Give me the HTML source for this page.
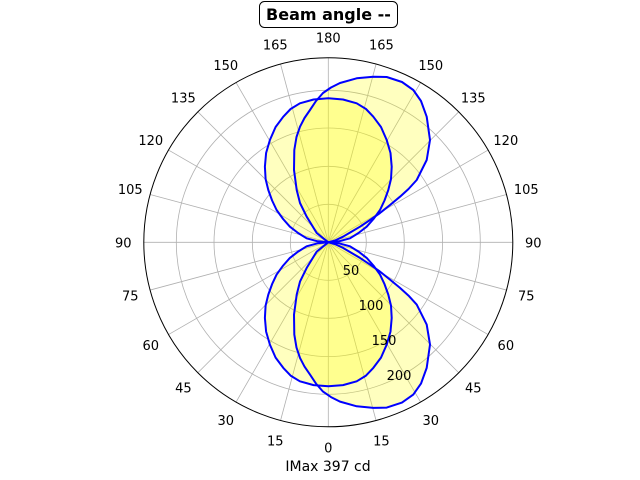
<!DOCTYPE html>
<html><head><meta charset="utf-8"><style>
html,body{margin:0;padding:0;background:#fff;width:640px;height:480px;overflow:hidden}
svg text{font-family:"DejaVu Sans","Liberation Sans",sans-serif;font-size:13px;fill:#000}
</style></head><body>
<svg id="s" width="640" height="480" xmlns="http://www.w3.org/2000/svg">
<g id="grid"></g>
<g id="data"></g>
<circle cx="328.3" cy="242.3" r="184.5" fill="none" stroke="#000" stroke-width="1"/>
<g id="lbl"></g>
<rect x="259.5" y="1.5" width="138" height="26" rx="5" fill="#fff" stroke="#000" stroke-width="1"/>
<text x="328.5" y="20" text-anchor="middle" style="font-weight:bold;font-size:16px">Beam angle --</text>
<text x="328" y="471" text-anchor="middle" style="font-size:14px">IMax 397 cd</text>
<text x="351" y="275" text-anchor="middle">50</text>
<text x="371" y="310" text-anchor="middle">100</text>
<text x="384" y="345" text-anchor="middle">150</text>
<text x="399" y="380" text-anchor="middle">200</text>
</svg>
<script>
var cx=328.3,cy=242.3,R=184.5,NS="http://www.w3.org/2000/svg";
function el(p,t,a){var e=document.createElementNS(NS,t);for(var k in a)e.setAttribute(k,a[k]);p.appendChild(e);return e;}
var g=document.getElementById('grid'),l=document.getElementById('lbl'),d=document.getElementById('data');
[38,76,114.3,152].forEach(function(r){el(g,'circle',{cx:cx,cy:cy,r:r,fill:'none',stroke:'#b0b0b0','stroke-width':0.8});});
for(var a=0;a<360;a+=15){var t=a*Math.PI/180;
el(g,'line',{x1:cx,y1:cy,x2:cx+R*Math.sin(t),y2:cy+R*Math.cos(t),stroke:'#b0b0b0','stroke-width':0.8});
var v=a<=180?a:360-a;var rr=205;
var tx=el(l,'text',{x:cx+rr*Math.sin(t),y:cy+rr*Math.cos(t)+5,'text-anchor':'middle'});tx.textContent=v;}
var half=[[328.3,98.3],[343,99.5],[356.7,103.3],[366,109],[373.3,116.7],[381,127],[386.7,140],[390.5,153],[391.7,166.7],[391,179],[388.3,190],[384.5,200.5],[380,210],[373.5,219],[366.7,226.7],[358.5,233],[350,238.3],[339,241.3],[328.3,242.3]];
var sym=half.slice();for(var i=half.length-2;i>=1;i--)sym.push([2*cx-half[i][0],half[i][1]]);
var tilt=[[328.3,242.3],[316.7,233],[306.7,216.7],[300,203],[296.7,190],[294,170],[294.3,150],[296.5,137],[300,126.7],[304.5,118],[310,110],[316,101],[323,93],[331,87.5],[340,83],[356.7,78.3],[373.3,76.7],[386.7,77],[402,82],[413.3,90],[421,101],[426.7,116.7],[430,140],[426.7,160],[416.7,180],[408.5,189],[400,196.7],[390,205],[380,213],[370,220],[360,226.7],[351,232],[343,236.7],[335,240.5]];
function pts(arr,sign){return arr.map(function(q){return q[0].toFixed(1)+','+(sign>0?q[1]:(2*cy-q[1])).toFixed(1);}).join(' ');}
[1,-1].forEach(function(s){
el(d,'polygon',{points:pts(sym,s),fill:'#ffff00','fill-opacity':0.25,stroke:'none'});
el(d,'polygon',{points:pts(tilt,s),fill:'#ffff00','fill-opacity':0.25,stroke:'none'});});
[1,-1].forEach(function(s){
el(d,'polygon',{points:pts(sym,s),fill:'none',stroke:'#0000ff','stroke-width':2,'stroke-linejoin':'round'});
el(d,'polygon',{points:pts(tilt,s),fill:'none',stroke:'#0000ff','stroke-width':2,'stroke-linejoin':'round'});});
</script>
</body></html>
